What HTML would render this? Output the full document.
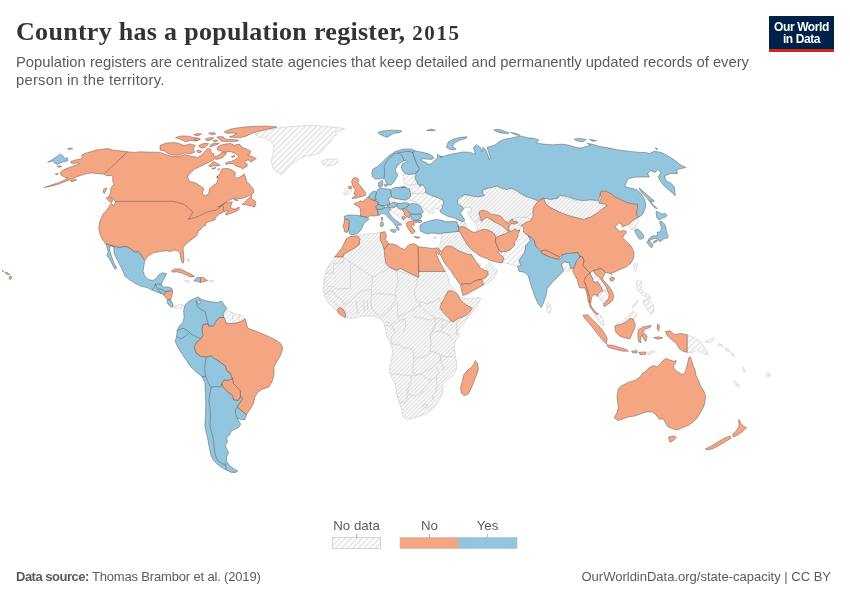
<!DOCTYPE html>
<html><head><meta charset="utf-8">
<style>
html,body{margin:0;padding:0;background:#fff;}
body{width:850px;height:600px;position:relative;overflow:hidden;font-family:"Liberation Sans",sans-serif;}
#title{position:absolute;left:16px;top:16px;font-family:"Liberation Serif",serif;font-weight:bold;font-size:26px;line-height:32px;color:#333;white-space:nowrap;letter-spacing:0.3px;}
#sub{position:absolute;left:16px;top:52.5px;font-size:14.78px;line-height:18.5px;color:#5b5b5b;white-space:nowrap;}
#logo{position:absolute;left:769px;top:16px;width:65px;height:33px;background:#002147;border-bottom:3px solid #ce261e;color:#fff;font-weight:bold;font-size:12px;line-height:11.6px;text-align:center;letter-spacing:-0.4px;}
#logo span{display:block;}
#src{position:absolute;left:16px;top:569px;font-size:13px;line-height:16px;color:#5b5b5b;white-space:nowrap;}
#url{position:absolute;right:19px;top:569px;font-size:13px;line-height:16px;color:#5b5b5b;white-space:nowrap;}
svg{position:absolute;left:0;top:0;}
</style></head><body>
<div id="title">Country has a population register, <span style="font-size:21px;letter-spacing:1.6px">2015</span></div>
<div id="sub">Population registers are centralized state agencies that keep detailed and permanently updated records of every<br><span style="letter-spacing:0.25px">person in the territory.</span></div>
<div id="logo"><span style="margin-top:6px">Our World</span><span>in Data</span></div>
<svg id="map" width="850" height="600" viewBox="0 0 850 600">
<defs>
<pattern id="h" width="4" height="4" patternUnits="userSpaceOnUse"><rect width="4" height="4" fill="#fff"/><path d="M-1,1 l2,-2 M0,4 l4,-4 M3,5 l2,-2" stroke="#e0e0e0" stroke-width="1.3" fill="none"/></pattern>
<pattern id="h2" width="4" height="4" patternUnits="userSpaceOnUse" patternTransform="rotate(45)"><rect width="4" height="4" fill="#fff"/><line x1="1" y1="0" x2="1" y2="4" stroke="#e6e6e6" stroke-width="1.7"/></pattern>
</defs>
<g fill="url(#h)" stroke="#c8c8c8" stroke-width="0.6" stroke-linejoin="round">
<path d="M334.7,256.9 342.9,256.9 344.1,253.8 348.8,251.5 354.7,247.9 359.4,244.4 359.9,238.5 357.1,235.7 364.1,234.3 372.4,233.8 380.6,232.6 380.1,239.7 382.5,244.4 384.1,249.1 384.8,256.2 385.8,263.2 390.0,267.2 395.9,270.3 400.6,268.6 406.5,271.5 413.5,275.0 418.7,277.4 418.7,271.5 445.3,271.5 447.6,275.9 448.8,280.6 449.4,284.1 451.8,286.5 455.3,290.6 458.8,295.3 460.6,298.2 462.4,297.1 467.1,298.8 472.9,298.2 478.8,297.6 480.6,298.2 478.8,302.9 475.9,307.6 472.4,312.4 468.2,317.1 465.9,320.0 464.1,323.2 459.4,327.9 457.1,332.6 460.0,334.1 455.3,341.2 454.1,348.2 455.3,355.3 456.5,362.4 456.5,369.4 452.9,375.3 447.1,380.0 442.4,384.7 443.1,390.6 441.2,396.5 437.6,402.4 432.9,408.2 427.1,412.9 420.0,416.0 412.9,418.4 407.1,419.3 403.1,416.5 401.6,409.4 398.8,401.2 396.5,392.9 395.3,384.7 391.8,377.6 389.4,370.6 390.6,363.5 392.2,356.5 392.4,349.1 390.0,342.1 386.5,335.0 385.3,327.9 384.1,323.2 380.6,318.5 374.7,316.2 367.6,315.7 359.4,316.6 351.2,318.5 345.3,317.4 345.8,313.8 342.9,309.1 339.4,307.2 337.1,310.3 333.5,307.9 328.8,303.2 325.3,297.4 322.9,291.5 323.6,285.6 324.6,278.5 326.0,271.5 328.8,265.6 332.4,260.9Z"/>
<path d="M437.6,247.6 440.0,244.7 441.2,240.0 441.8,235.3 443.5,232.9 449.4,232.4 454.1,231.8 458.2,231.5 459.4,231.2 461.2,234.1 462.9,237.6 465.3,241.2 467.1,244.7 469.4,247.1 468.8,249.4 470.6,252.4 469.4,254.7 465.9,253.5 461.2,251.8 456.5,249.4 451.8,246.5 448.2,245.9 445.3,247.1 442.4,250.6 440.6,254.7 439.4,251.8Z"/>
<path d="M433.5,237.4 436.5,236.7 436.7,237.9 434.1,238.5Z"/>
<path d="M457.1,218.8 460.6,220.6 464.1,221.4 466.5,225.3 465.3,227.6 462.4,226.5 460.0,227.1 457.9,225.3 456.5,221.8 455.3,221.2Z"/>
<path d="M481.8,279.4 485.9,277.1 488.2,274.1 487.6,271.2 483.5,270.0 481.2,268.8 484.7,267.6 487.6,265.3 489.4,262.4 490.6,264.1 493.5,267.6 497.6,270.6 496.5,273.5 494.1,277.6 490.6,281.2 487.1,283.5 483.5,284.7Z"/>
<path d="M478.8,263.9 480.0,263.2 480.5,265.3 479.3,265.9Z"/>
<path d="M472.4,221.2 474.7,217.6 477.6,216.5 481.2,221.2 482.9,220.0 484.7,218.2 487.6,217.6 490.6,219.4 494.1,221.8 497.6,223.5 501.2,225.3 504.7,228.2 507.6,231.2 508.8,231.8 504.7,234.1 501.2,235.3 497.6,236.5 495.9,237.6 494.7,234.1 491.8,231.8 488.2,230.0 484.7,229.4 481.2,230.0 478.2,231.2 477.1,228.8 474.7,224.7Z"/>
<path d="M509.4,225.3 511.2,223.5 514.1,224.1 517.6,222.9 520.0,225.3 521.2,228.2 520.0,230.0 517.1,230.6 514.7,228.8 512.9,230.8 509.4,230.8 508.8,228.8Z"/>
<path d="M510.6,219.4 516.5,216.4 523.5,217.1 530.6,218.2 529.4,221.8 523.5,227.2 518.4,224.1 516.5,220.6 512.9,221.8Z"/>
<path d="M457.6,200.6 463.5,195.9 472.9,194.7 482.4,193.5 483.5,190.0 489.4,187.6 496.5,185.8 504.7,188.1 511.8,188.8 517.6,192.4 524.7,195.9 531.8,198.2 537.6,200.6 534.1,206.5 532.9,211.2 529.4,215.9 522.4,217.1 515.3,218.2 510.6,220.6 505.9,222.9 500.0,219.4 494.1,215.9 487.1,213.5 482.4,211.2 478.8,213.5 478.8,220.6 472.9,222.5 470.6,218.2 469.4,213.5 471.8,210.0 470.6,207.6 467.1,207.6 463.5,208.8 461.2,205.3Z"/>
<path d="M543.5,198.2 550.6,199.4 557.6,198.2 560.0,195.9 568.2,198.2 576.5,200.6 585.9,199.9 595.3,198.9 598.8,202.9 604.7,204.1 607.1,206.0 602.4,208.8 596.5,213.5 590.6,217.1 583.5,219.4 574.1,217.1 565.9,214.7 557.6,211.2 550.6,207.6 545.9,204.1Z"/>
</g>
<g fill="url(#h2)" stroke="#c8c8c8" stroke-width="0.6" stroke-linejoin="round">
<path d="M172.2,304.8 176.5,305.8 180.0,304.1 184.0,305.3 184.7,308.1 181.2,307.6 177.6,308.8 174.1,307.6Z"/>
<path d="M184.7,280.6 188.7,280.6 189.4,282.2 185.4,282.2Z"/>
<path d="M209.4,280.4 212.9,280.4 212.9,281.8 209.4,281.8Z"/>
<path d="M186.4,259.4 188.7,258.7 189.4,261.8 187.8,261.1Z"/>
<path d="M226.5,308.2 230.0,311.8 235.9,314.1 241.8,315.3 245.3,318.8 240.6,321.9 233.5,323.5 226.5,323.5 224.1,317.6 222.9,314.1Z"/>
<path d="M255.3,134.7 261.2,131.2 274.1,128.8 285.9,126.9 300.0,126.0 314.1,125.3 330.6,126.9 344.7,128.4 340.0,130.7 335.3,131.6 336.5,134.7 331.8,137.8 330.6,141.8 325.9,145.3 323.5,148.8 321.2,152.4 314.1,154.7 307.1,155.9 300.0,158.2 292.9,162.9 288.2,167.6 283.5,172.4 281.2,174.7 277.6,172.4 274.1,170.0 272.2,165.3 271.3,159.4 272.9,154.7 274.1,148.8 272.9,144.1 269.4,140.6 264.7,137.8 258.8,137.1Z"/>
<path d="M321.2,161.3 325.9,159.4 332.9,158.9 337.6,159.9 338.1,162.2 334.1,164.6 328.2,166.0 323.5,164.6Z"/>
<path d="M501.2,262.5 503.5,258.2 501.2,252.4 499.5,251.6 504.7,251.6 510.6,248.8 515.3,244.6 514.1,240.6 516.9,237.1 521.2,234.2 523.5,231.9 528.2,235.9 530.6,240.6 525.9,245.3 524.7,252.4 518.8,260.6 521.2,265.3 517.6,266.5 514.1,265.3 508.2,263.4Z"/>
<path d="M562.4,255.9 568.2,255.4 568.7,258.7 563.1,258.7Z"/>
<path d="M561.2,260.6 564.7,261.8 569.4,262.9 570.6,268.8 567.8,271.2 564.0,270.0 562.4,265.3Z"/>
<path d="M547.1,303.4 549.9,304.1 551.3,308.8 549.4,313.5 547.1,311.2Z"/>
<path d="M590.0,272.9 592.9,271.2 594.7,272.9 596.5,275.3 599.4,277.1 601.2,280.0 604.1,283.5 606.5,287.6 607.6,291.2 605.3,291.8 602.9,290.6 601.2,287.6 599.4,284.1 597.6,281.8 595.3,282.4 592.9,281.2 592.4,277.6 590.6,275.3Z"/>
<path d="M598.2,294.1 600.6,291.8 602.9,290.6 605.3,291.8 607.6,291.2 608.8,294.7 608.2,298.2 605.9,300.6 602.9,301.2 600.0,299.4 598.2,297.1Z"/>
<path d="M403.2,174.7 407.6,173.8 416.5,172.1 418.2,173.8 417.3,178.2 419.1,181.8 414.7,184.4 410.3,185.3 405.9,184.4 403.8,180.9Z"/>
<path d="M410.3,185.3 414.7,184.4 419.1,181.8 422.6,185.6 427.1,191.5 423.5,193.2 418.2,193.8 412.9,193.2 409.4,190.6Z"/>
<path d="M409.4,193.2 412.9,193.2 418.2,193.8 423.5,193.2 427.1,190.6 432.3,194.1 439.4,196.8 444.7,200.3 443.8,206.5 441.2,210.3 435.9,208.2 432.3,210.0 434.1,212.6 430.6,213.5 427.1,210.9 423.5,208.2 420.9,205.6 418.2,202.9 414.7,201.5 410.3,200.3 408.5,196.8Z"/>
<path d="M343.5,192.9 345.3,189.4 348.5,187.1 349.4,188.8 351.8,188.6 351.8,191.2 350.0,193.3 346.5,194.7 344.1,194.5Z"/>
<path d="M388.0,198.8 390.0,197.6 394.1,198.2 397.6,198.8 401.2,199.4 404.7,200.0 408.2,199.4 409.4,200.8 407.6,202.9 403.5,202.9 400.0,203.5 397.6,203.5 396.5,202.7 392.9,202.4 390.0,201.8Z"/>
<path d="M390.0,210.0 394.1,207.4 397.1,205.9 398.2,208.2 401.2,209.4 402.4,208.8 402.9,210.6 404.1,212.4 404.5,214.7 402.1,217.1 402.4,218.8 404.1,219.4 405.6,217.6 407.1,217.1 409.4,217.6 411.2,218.8 413.5,220.4 411.8,221.2 408.8,221.8 406.5,223.5 404.7,222.9 403.5,220.6 401.2,218.2 398.2,216.5 395.3,214.1 392.4,211.8Z"/>
<path d="M628.5,224.5 631.2,221.8 634.4,219.7 637.5,217.1 638.4,221.3 636.5,224.5 634.9,227.6 632.8,229.8 630.6,229.2Z"/>
<path d="M633.5,265.3 635.3,262.9 636.8,264.7 636.5,268.8 635.3,271.4 634.1,269.4Z"/>
<path d="M636.5,281.2 639.4,280.4 641.8,281.8 641.2,285.3 640.6,288.8 642.9,291.8 646.5,293.5 650.0,296.5 651.2,298.8 648.8,299.4 645.9,297.1 642.9,295.3 640.0,292.9 637.6,289.4 636.8,285.3Z"/>
<path d="M642.9,300.6 646.5,299.4 650.0,301.8 652.9,304.1 654.1,308.8 653.5,312.9 651.2,314.1 648.8,311.8 647.1,308.2 644.7,305.3 643.5,302.9Z"/>
<path d="M632.4,307.1 635.3,302.9 637.6,300.0 638.2,300.6 635.9,304.1 632.9,307.6Z"/>
<path d="M593.5,312.4 599.4,313.5 602.9,319.4 604.1,325.3 600.6,324.1 597.1,318.2Z"/>
<path d="M646.5,352.8 654.7,350.5 655.2,351.9 648.8,354.7Z"/>
<path d="M615.9,324.6 622.9,320.6 628.8,314.7 633.5,311.2 637.1,314.7 633.5,319.4 630.0,318.2 626.5,321.8 620.6,324.6Z"/>
<path d="M687.2,334.7 694.7,337.8 701.8,342.9 704.1,347.6 708.8,354.7 702.9,353.5 697.1,350.0 692.4,352.4 687.2,352.4Z"/>
<path d="M705.3,341.8 711.2,339.4 713.5,337.1 714.0,339.4 710.0,342.9Z"/>
<path d="M718.7,343.4 722.9,345.3 722.5,346.7 718.2,344.8Z"/>
<path d="M725.3,347.6 730.0,350.5 729.1,351.9 724.8,349.1Z"/>
<path d="M731.2,352.4 734.7,355.2 733.8,356.4 730.7,353.8Z"/>
<path d="M734.7,381.1 739.9,385.8 738.5,387.6 734.2,382.9Z"/>
<path d="M743.6,366.9 745.1,371.6 744.1,372.1 742.9,367.9Z"/>
<path d="M766.5,373.5 769.5,373.1 770.0,375.9 767.2,376.4Z"/>
</g>
<g fill="none" stroke="#c8c8c8" stroke-width="0.6" stroke-linejoin="round">
<path d="M232.4,312.9 233.5,323.5"/>
<path d="M238.7,314.8 239.4,322.4"/>
<path d="M334.4,256.8 343.2,256.8 343.2,262.6 333.5,263.5 333.5,273.2 324.7,273.2"/>
<path d="M343.2,256.8 348.5,260.9 350.3,263.5 350.3,288.2 336.2,289.1 333.5,286.5 327.4,286.5"/>
<path d="M348.5,260.9 359.1,267.9 372.3,276.8 378.5,274.1 389.1,267.9 385.6,264.4"/>
<path d="M372.3,276.8 372.3,282.9 371.5,289.1 362.6,290.9 358.2,293.5 352.9,297.9 351.2,300.6 345.9,304.1 343.2,307.6"/>
<path d="M389.1,267.9 397.1,270.6 397.9,282.9 395.3,291.8 396.2,296.2 392.6,294.4 385.6,294.4 376.8,293.5 371.5,295.3 371.5,289.1"/>
<path d="M397.1,270.6 417.3,276.8 417.3,282.9 414.7,290.0 414.7,296.2 417.3,301.5 420.9,305.9"/>
<path d="M417.3,276.8 417.3,271.8"/>
<path d="M371.5,295.3 370.6,300.6 371.5,307.6 375.0,312.9 380.3,316.5 386.5,312.9 390.9,307.6 395.3,300.6 396.2,296.2"/>
<path d="M395.3,300.6 397.9,305.9 397.1,311.2 397.9,316.5 403.2,314.7 410.3,311.2 417.3,305.9 420.9,305.9 427.9,312.9 435.0,318.2"/>
<path d="M420.9,305.9 420.0,301.5 427.9,304.1 436.8,299.7 438.5,297.1 441.2,304.1"/>
<path d="M356.5,300.6 357.4,313.8"/>
<path d="M363.5,299.7 364.4,312.1"/>
<path d="M367.1,300.6 367.9,310.3"/>
<path d="M324.7,290.9 332.6,290.9 336.2,296.2 341.5,298.8 344.1,304.1"/>
<path d="M324.7,293.5 330.9,293.9"/>
<path d="M332.6,300.6 337.9,305.9"/>
<path d="M385.6,321.8 392.6,323.5 397.9,321.8 405.0,318.2 405.9,325.3 403.2,332.3"/>
<path d="M397.9,316.5 398.8,321.8"/>
<path d="M413.8,316.5 420.9,318.2 431.5,320.0 435.0,318.2 435.0,325.3 431.5,332.3"/>
<path d="M442.1,319.1 442.1,328.8"/>
<path d="M457.1,320.0 456.2,335.0"/>
<path d="M435.0,318.2 442.1,319.1 449.1,321.8 457.1,320.0 461.5,312.9"/>
<path d="M384.0,326.0 392.0,325.0 395.0,332.0 391.0,338.0 392.0,344.0 400.0,345.0 403.0,348.0 410.0,348.0 413.0,352.0 414.0,358.0 419.0,358.0"/>
<path d="M389.0,373.6 400.0,374.4 411.0,376.0 418.0,375.0"/>
<path d="M414.0,358.0 413.0,366.0 413.0,373.0 418.0,375.0"/>
<path d="M419.0,358.0 424.0,357.0 429.0,354.0 430.0,351.0 434.0,352.0 440.0,355.0 441.0,360.0 436.0,365.0 432.0,368.0 426.0,371.0 421.0,374.0 418.0,375.0"/>
<path d="M430.0,351.0 431.0,342.0 430.0,335.0 434.0,332.0 440.0,331.0 449.0,335.0 453.0,340.0"/>
<path d="M440.0,355.0 446.0,357.0 454.0,356.0"/>
<path d="M440.0,355.0 441.6,363.0 444.0,369.0 441.0,370.0"/>
<path d="M421.0,374.0 425.0,378.0 431.0,380.0 436.0,378.0 439.0,372.0 436.0,367.0"/>
<path d="M411.0,376.0 411.0,382.0 408.0,388.0 409.0,395.0 416.0,396.0 422.0,392.0 425.0,388.0 431.0,380.0"/>
<path d="M407.0,388.0 407.0,400.0 403.0,403.0 400.0,402.0"/>
<path d="M436.0,378.0 437.0,386.0 435.0,394.0"/>
<path d="M432.0,397.0 434.0,396.4 434.8,398.4 432.8,399.2 432.0,397.0"/>
<path d="M423.0,405.6 426.0,404.0 428.0,406.4 425.0,408.4 423.0,405.6"/>
<path d="M430.0,335.0 436.0,324.0 440.0,320.0"/>
<path d="M440.0,331.0 450.0,320.0"/>
</g>
<g fill="#fff" stroke="#c8c8c8" stroke-width="0.6" stroke-linejoin="round">
<path d="M460.6,213.5 462.4,210.6 463.8,208.2 466.5,207.6 469.4,207.6 471.8,208.8 470.6,210.6 468.2,211.8 467.1,214.1 469.4,216.5 471.8,219.4 474.1,221.8 476.5,225.3 477.6,228.8 476.5,231.8 472.9,232.4 469.4,230.6 467.1,227.6 465.9,224.1 464.7,220.6 462.9,217.1Z"/>
</g>
<g fill="#f4a582" stroke="#4a3f3a" stroke-opacity="0.8" stroke-width="0.5" stroke-linejoin="round">
<path d="M44.1,187.6 50.6,185.3 57.6,182.9 63.5,180.6 67.6,178.2 65.3,177.4 61.2,175.3 60.2,172.9 61.8,170.8 65.9,168.8 70.6,167.1 75.3,165.3 79.4,164.1 78.8,162.9 74.1,163.5 70.8,162.9 70.8,161.4 75.3,160.0 81.2,158.8 82.6,157.6 81.4,155.3 84.7,153.5 90.6,151.8 96.5,150.0 102.4,149.2 107.6,148.5 112.9,150.0 120.0,150.8 127.6,151.8 134.1,152.4 140.0,151.8 160.0,152.4 167.8,155.2 172.7,156.6 178.4,156.6 184.7,154.5 190.4,155.9 198.1,157.4 202.4,154.5 202.4,153.9 204.1,152.3 205.7,150.2 208.2,148.2 210.2,149.0 211.1,151.5 212.3,153.5 214.4,153.9 213.5,155.6 214.4,156.8 216.8,156.0 219.3,154.4 221.4,152.7 223.8,152.3 226.7,152.7 225.5,154.8 223.0,157.2 219.7,158.9 216.4,159.3 214.4,158.9 212.7,160.5 209.8,161.8 206.5,163.4 202.4,165.5 198.3,167.5 195.0,168.8 190.4,172.9 187.5,176.4 189.6,181.4 195.3,182.8 200.9,186.3 203.8,188.4 202.4,193.4 205.2,195.8 208.7,193.4 209.7,188.4 212.9,185.6 216.5,183.5 217.9,179.2 217.2,175.7 216.8,177.8 219.7,173.7 222.2,168.8 225.5,168.4 229.6,168.8 233.7,171.2 235.8,172.9 234.5,176.2 237.0,178.2 241.1,176.2 244.4,174.1 245.7,177.8 246.5,181.1 250.4,185.6 253.9,189.8 253.5,193.1 251.2,194.9 248.4,195.9 245.5,197.3 242.7,198.2 238.9,198.7 235.2,198.2 231.4,199.2 228.6,200.6 225.8,202.5 222.9,204.4 220.1,206.2 218.2,207.2 222.0,204.8 225.8,202.9 229.5,201.8 232.4,202.0 231.4,204.4 230.5,207.2 232.4,208.6 235.2,209.1 238.0,207.6 239.4,207.2 238.9,209.5 236.1,211.4 232.4,212.8 228.6,214.2 226.2,215.2 225.3,213.8 227.2,212.4 228.6,210.9 226.7,210.9 224.4,211.4 222.0,212.8 219.2,214.2 217.3,215.6 215.4,218.0 214.9,219.9 212.6,220.8 208.8,221.8 205.5,224.1 205.1,226.0 204.7,225.3 202.4,227.6 198.8,231.2 196.5,235.9 191.8,239.4 187.1,242.9 183.1,247.6 183.5,253.5 184.0,259.4 183.1,263.4 181.6,261.8 180.7,258.2 180.0,253.5 177.6,250.7 174.1,250.0 170.6,251.6 165.9,250.7 160.0,251.6 152.9,253.1 148.2,255.9 144.7,260.6 142.4,257.1 138.8,251.6 135.3,252.4 130.6,248.8 125.9,246.5 118.8,247.6 112.9,246.0 105.9,244.1 102.4,239.4 100.0,234.7 98.8,227.6 100.0,220.6 103.5,213.5 106.0,211.0 108.5,207.5 110.0,205.0 111.5,203.3 112.5,204.2 113.0,206.0 114.0,205.6 115.0,203.0 115.2,201.4 114.1,200.0 112.2,198.5 110.6,197.5 109.4,196.4 109.5,195.0 110.6,192.9 110.6,189.4 111.8,186.5 114.1,184.1 112.4,180.6 112.9,177.6 111.8,175.3 108.2,175.9 105.9,175.3 104.1,174.1 101.2,174.1 96.5,173.5 91.8,172.9 87.1,173.5 81.2,175.3 75.3,177.4 70.6,179.4 65.3,181.4 58.8,184.1 51.8,186.1Z"/>
<path d="M160.0,145.4 165.6,143.2 172.7,142.5 178.4,143.2 184.0,145.4 190.4,143.9 195.3,145.4 193.2,148.9 194.6,152.4 190.4,153.8 184.7,153.1 178.4,155.2 172.7,155.2 168.5,153.8 164.2,151.0 160.0,150.0Z"/>
<path d="M175.5,137.6 181.2,135.9 188.2,136.2 193.9,137.6 199.5,139.0 196.7,141.1 191.1,140.4 185.4,141.8 181.2,139.7Z"/>
<path d="M208.7,133.1 213.6,132.6 215.8,134.1 211.5,134.8Z"/>
<path d="M224.2,131.9 229.2,129.4 236.2,128.0 244.7,127.0 256.0,126.3 267.3,126.0 277.2,127.0 271.5,128.4 264.5,129.8 257.4,131.7 251.8,133.4 246.1,136.2 240.5,137.6 234.8,137.6 229.2,136.9 233.4,135.5 236.9,133.4 232.0,133.1 227.1,133.4Z"/>
<path d="M193.9,134.8 198.1,133.4 201.6,134.1 197.4,135.9Z"/>
<path d="M216.8,149.0 218.1,146.5 221.4,144.9 225.5,144.1 229.6,143.6 232.9,144.1 234.1,146.1 236.2,144.5 239.5,144.1 241.1,146.5 244.4,148.2 247.7,149.4 250.6,151.1 250.2,153.5 247.7,154.8 252.7,156.8 256.4,158.5 253.5,160.5 251.0,162.2 248.5,160.1 245.7,160.5 244.8,162.2 247.3,164.2 246.9,166.7 244.0,167.5 242.8,169.2 240.7,167.5 237.8,166.7 235.0,165.5 232.9,163.4 229.6,163.8 226.3,164.2 225.1,163.4 227.1,162.2 231.2,161.4 234.5,159.7 237.0,158.5 238.7,156.8 237.4,155.2 235.4,153.5 233.3,152.7 231.2,151.9 227.9,151.5 224.7,151.9 221.4,151.1 218.5,150.7Z"/>
<path d="M231.2,156.8 233.7,155.2 235.0,156.0 232.9,157.7Z"/>
<path d="M208.6,165.9 211.5,163.4 213.5,161.4 216.4,163.0 220.1,165.1 217.7,165.9 214.4,165.5 211.1,166.7Z"/>
<path d="M211.9,168.6 215.6,167.3 216.0,167.9 212.7,169.2Z"/>
<path d="M217.7,169.6 219.5,168.4 219.9,168.9 218.5,170.3Z"/>
<path d="M198.7,145.7 201.6,144.1 205.7,143.2 208.6,143.6 207.4,145.3 204.9,147.4 202.0,148.2 199.9,147.4Z"/>
<path d="M209.4,146.5 211.5,144.1 215.2,143.2 219.3,143.2 217.2,144.5 213.5,145.7 211.1,146.9Z"/>
<path d="M205.3,139.1 208.6,137.9 213.5,137.5 212.7,139.1 209.8,140.4 206.5,140.4Z"/>
<path d="M195.0,138.3 198.3,137.9 200.4,139.1 197.5,140.4 195.0,140.4Z"/>
<path d="M212.7,140.8 215.6,139.9 217.7,140.8 215.2,142.0Z"/>
<path d="M216.8,137.1 219.7,136.6 223.8,137.1 224.7,138.7 227.9,139.5 232.9,139.5 237.8,139.9 238.7,140.8 234.5,141.6 229.6,141.6 224.7,141.6 221.4,141.2 219.7,139.5 217.7,138.3Z"/>
<path d="M196.6,150.7 199.9,150.2 202.0,151.5 199.9,152.7 197.5,152.3Z"/>
<path d="M242.2,204.4 244.6,202.5 247.4,199.2 250.2,196.8 252.1,195.4 251.2,197.8 252.6,199.6 254.9,200.6 255.9,203.4 254.9,206.7 253.1,207.2 252.1,205.3 250.2,206.2 248.4,205.3 245.5,204.8Z"/>
<path d="M233.8,199.4 236.1,199.2 238.5,200.3 236.1,200.6Z"/>
<path d="M106.2,198.4 107.4,196.8 109.2,197.1 110.9,198.2 112.2,199.6 112.4,201.2 111.6,202.6 110.2,202.2 108.8,201.0 107.6,199.8Z"/>
<path d="M103.5,189.4 105.3,188.0 107.1,188.5 105.9,190.6 104.5,193.5 103.3,192.4Z"/>
<path d="M70.4,180.6 75.3,179.1 76.7,180.0 71.8,182.1Z"/>
<path d="M55.3,173.9 57.6,173.2 58.2,174.1 55.9,174.8Z"/>
<path d="M57.1,166.1 60.6,165.9 61.8,166.8 58.8,167.3Z"/>
<path d="M9.2,276.5 11.0,276.2 12.0,278.0 10.5,279.6 9.3,279.0Z"/>
<path d="M5.0,272.2 7.0,272.5 9.8,274.5 8.0,274.7 5.5,273.3Z"/>
<path d="M2.0,271.0 3.5,270.8 3.0,271.8Z"/>
<path d="M163.5,294.7 165.9,291.6 170.6,290.7 172.9,290.0 172.2,294.7 170.6,300.1 167.5,299.4 165.2,297.1Z"/>
<path d="M171.3,271.1 174.8,268.9 180.5,268.9 186.1,271.8 191.8,274.6 194.6,276.4 190.4,277.0 186.8,275.3 181.9,273.2 176.9,271.8 173.4,272.2Z"/>
<path d="M200.2,277.4 203.8,277.8 207.6,280.7 204.5,281.6 200.5,282.4Z"/>
<path d="M224.1,317.6 226.5,323.5 233.5,323.5 240.6,321.9 245.3,318.8 246.5,323.5 247.6,328.2 254.7,330.6 261.8,333.6 268.8,336.5 275.9,340.0 280.6,343.5 282.9,348.2 280.6,355.3 277.1,361.2 274.0,367.1 274.0,374.1 272.4,381.2 268.8,387.1 261.8,389.4 257.1,392.9 254.7,397.6 253.5,403.5 250.0,409.4 246.5,414.6 242.9,411.8 239.4,408.9 237.1,407.1 239.4,403.5 242.5,398.8 240.6,396.5 240.1,390.6 237.1,387.1 233.5,383.5 232.4,378.8 230.0,372.9 226.5,370.6 225.3,365.9 220.6,362.4 214.7,358.8 211.2,355.8 206.5,357.2 200.6,356.5 195.9,352.9 194.0,347.1 197.1,341.6 200.6,338.8 202.9,335.3 201.8,329.4 202.9,324.7 207.6,323.5 208.8,325.9 213.5,325.9 215.9,321.2 219.4,317.6Z"/>
<path d="M224.1,380.0 228.8,380.0 232.4,378.8 233.5,383.5 237.1,387.1 240.1,390.6 240.6,396.5 238.2,400.5 233.5,400.0 232.4,395.3 227.6,391.8 222.9,387.1 221.8,383.5Z"/>
<path d="M350.0,236.6 357.1,235.7 359.9,238.5 359.4,244.4 354.7,247.9 348.8,251.5 344.1,253.8 342.9,256.9 334.7,256.9 338.2,252.6 341.8,247.9 344.1,243.2 346.5,238.5Z"/>
<path d="M380.6,232.6 384.8,231.5 386.5,236.2 385.3,239.7 388.8,243.2 386.5,246.8 384.1,249.1 382.5,244.4 380.1,239.7Z"/>
<path d="M384.1,249.1 386.5,246.8 387.9,244.4 392.1,243.7 396.4,245.1 400.6,247.9 404.8,249.4 406.9,246.5 409.8,244.4 413.3,243.7 416.8,245.1 418.2,246.8 418.7,262.1 418.7,277.4 413.5,275.0 406.5,271.5 400.6,268.6 395.9,270.3 390.0,267.2 385.8,263.2 384.8,256.2Z"/>
<path d="M418.2,246.8 425.3,247.5 432.4,248.4 438.2,247.9 440.6,250.8 438.9,255.0 437.1,252.2 435.9,252.6 438.2,258.5 441.8,265.6 445.3,271.5 418.7,271.5Z"/>
<path d="M337.1,310.3 339.4,307.2 342.9,309.1 345.8,313.8 345.3,317.4 341.8,315.7 338.7,313.4Z"/>
<path d="M447.6,291.2 451.2,290.6 455.3,292.4 458.2,295.3 459.4,298.2 461.2,300.6 464.1,303.5 468.2,305.9 472.4,308.2 470.0,311.8 466.5,315.3 461.2,317.6 456.5,319.2 453.5,322.0 450.6,320.6 448.8,318.2 445.3,314.7 442.4,311.2 439.8,308.2 441.2,304.1 443.5,299.4 445.9,295.3Z"/>
<path d="M475.3,360.5 477.6,363.5 478.4,369.4 476.5,375.3 474.1,381.2 471.3,388.2 468.2,394.1 464.2,395.8 461.2,392.9 460.5,387.1 462.4,381.2 463.5,375.3 467.1,370.6 471.8,367.1 474.1,363.5Z"/>
<path d="M440.6,254.7 442.4,250.6 445.3,247.1 448.2,245.9 451.8,246.5 456.5,249.4 461.2,251.8 465.9,253.5 469.4,254.7 471.2,254.1 473.5,257.6 475.9,261.2 478.2,264.7 480.6,268.2 483.5,270.0 487.6,271.2 488.2,274.1 485.9,277.1 481.8,279.4 477.6,280.0 472.9,281.8 470.6,284.1 465.9,283.5 461.2,284.1 461.2,285.3 459.4,283.5 456.5,279.4 453.5,275.3 451.2,271.2 448.2,267.6 445.3,264.1 442.9,260.0 440.6,255.3Z"/>
<path d="M461.2,284.1 465.9,283.5 470.6,284.1 472.9,281.8 477.6,280.0 481.8,279.4 483.5,284.7 478.8,287.6 473.5,290.6 468.2,293.5 462.9,295.6 461.8,291.2 460.6,286.5Z"/>
<path d="M457.9,225.3 460.0,227.1 462.4,226.5 465.3,227.6 468.2,229.4 471.8,231.8 475.3,232.4 478.2,231.2 481.2,230.0 484.7,229.4 488.2,230.0 491.8,231.8 494.7,234.1 495.9,237.6 495.3,241.2 497.1,245.9 498.8,249.4 498.2,252.4 501.2,255.3 504.1,258.2 502.4,262.4 500.0,262.9 495.3,261.8 490.6,260.6 487.1,258.8 483.5,257.6 478.8,255.3 475.3,252.4 471.8,250.0 469.4,247.1 467.1,244.7 465.3,241.2 462.9,237.6 461.2,234.1 459.4,231.2 458.2,231.5 458.8,228.8Z"/>
<path d="M495.9,237.6 497.6,236.5 501.2,235.3 504.7,234.1 508.8,231.8 512.9,230.8 514.7,228.8 517.1,230.6 520.0,230.0 518.2,234.1 517.6,237.6 515.9,240.6 514.1,242.4 514.7,245.3 512.9,247.1 510.6,249.4 507.1,251.2 503.5,251.8 500.0,251.8 498.8,249.4 497.1,245.9 495.3,241.2Z"/>
<path d="M478.8,211.8 481.2,210.6 484.7,210.4 487.6,211.8 490.6,213.9 494.1,214.7 497.6,215.1 501.2,216.5 503.5,219.4 505.9,221.8 508.8,222.9 510.0,220.6 512.4,218.8 512.9,221.2 517.1,221.8 517.6,222.9 514.1,224.1 511.2,223.5 509.4,225.3 508.8,228.8 509.4,230.8 507.6,231.2 504.7,228.2 501.2,225.3 497.6,223.5 494.1,221.8 490.6,219.4 487.6,217.6 484.7,218.2 482.9,220.0 481.2,221.2 480.2,217.6 479.4,214.7Z"/>
<path d="M541.2,250.7 545.9,250.0 552.9,253.5 560.0,257.1 558.8,259.4 551.8,257.8 545.9,255.4 541.9,253.5Z"/>
<path d="M572.9,267.6 574.7,262.9 578.2,259.4 580.6,255.9 582.9,257.1 584.1,261.2 582.9,264.7 584.7,267.6 587.6,270.6 590.0,272.9 587.6,275.3 585.3,277.6 584.1,281.2 585.9,285.3 587.6,290.0 588.8,294.7 589.8,299.4 589.4,303.5 588.2,301.8 587.6,297.1 586.5,292.4 584.7,287.6 581.8,288.2 579.4,287.6 578.2,284.1 577.1,279.4 574.7,275.3 572.9,271.8Z"/>
<path d="M592.9,270.6 597.1,269.4 600.6,268.2 603.5,270.0 605.3,272.4 604.1,275.3 602.4,278.2 604.1,281.2 607.1,284.1 610.0,287.6 612.4,291.8 613.8,296.5 612.9,300.0 610.0,302.9 606.5,305.3 604.1,306.5 603.5,303.5 606.5,301.2 608.8,298.2 609.4,294.7 607.9,291.2 606.5,287.6 604.1,283.5 601.2,280.0 599.4,277.1 596.5,275.3 594.7,272.9Z"/>
<path d="M585.3,277.6 587.6,275.3 590.0,272.9 590.6,275.3 592.4,277.6 592.9,281.2 595.3,282.4 597.6,281.8 599.4,284.1 601.2,287.6 602.9,290.6 600.6,291.8 598.2,294.1 597.6,296.5 595.3,294.7 592.9,295.3 591.8,297.1 591.2,300.6 590.6,304.1 591.8,307.1 594.1,310.0 596.5,312.4 598.2,314.1 596.5,314.5 593.5,311.8 591.2,308.8 589.4,305.9 589.4,303.5 589.8,299.4 588.8,294.7 587.6,290.0 585.9,285.3 584.1,281.2Z"/>
<path d="M351.5,181.8 352.9,178.5 355.3,177.6 357.6,178.2 358.8,180.6 357.6,182.4 359.4,184.7 361.8,187.6 364.1,190.6 365.6,192.9 365.3,195.3 362.4,196.5 358.8,197.3 355.3,198.2 351.8,198.5 354.1,196.5 356.5,195.3 353.9,194.1 354.7,191.8 355.3,189.4 353.5,187.6 352.4,184.7Z"/>
<path d="M348.5,186.5 351.2,186.2 351.8,188.2 349.4,188.8Z"/>
<path d="M354.1,203.5 357.6,202.4 360.6,200.8 362.9,201.5 366.5,198.2 368.2,196.8 370.8,198.8 374.1,200.4 378.2,202.0 377.6,204.7 375.9,206.5 377.1,209.4 378.2,212.9 377.6,215.3 374.1,216.1 370.8,215.6 367.6,217.6 364.1,216.8 360.2,216.1 360.6,212.4 360.2,208.8 357.6,205.9 355.3,205.1Z"/>
<path d="M381.2,217.6 382.4,217.1 382.6,220.0 381.4,220.8Z"/>
<path d="M344.7,219.2 348.2,219.4 349.4,221.2 349.2,225.3 348.5,230.0 347.1,232.4 344.7,232.1 344.1,228.8 342.9,226.5 344.1,222.9Z"/>
<path d="M402.4,208.8 404.7,208.2 405.9,210.0 407.6,211.8 409.6,212.9 410.4,215.3 409.4,217.6 407.1,217.1 405.9,215.9 404.5,214.7 404.1,212.4 402.9,210.6Z"/>
<path d="M402.1,217.1 404.1,216.1 405.6,217.6 404.1,219.4 402.4,218.8Z"/>
<path d="M406.5,223.5 408.8,221.8 411.8,221.2 415.3,220.8 418.2,220.4 418.6,221.8 415.9,222.7 413.5,223.5 414.4,225.3 412.4,225.1 411.2,226.5 413.5,228.8 415.1,231.2 413.5,233.3 411.5,233.5 410.0,231.2 408.2,228.8 406.8,226.5Z"/>
<path d="M413.9,236.5 416.5,236.8 420.0,237.3 418.2,238.2 415.3,237.6Z"/>
<path d="M523.5,227.6 521.2,225.3 525.9,222.5 530.6,220.6 532.9,215.9 532.9,211.2 534.1,206.5 537.6,201.8 543.5,198.2 545.9,204.1 550.6,207.6 557.6,211.2 565.9,214.7 574.1,217.1 583.5,219.4 590.6,217.1 596.5,213.5 602.4,208.8 607.1,206.0 604.7,204.1 598.8,202.9 601.2,197.5 598.6,191.2 604.7,189.1 612.2,190.9 619.5,195.6 626.4,200.4 632.9,202.7 638.1,202.5 639.5,210.0 638.1,215.9 639.1,203.8 640.2,207.5 640.7,210.7 639.6,211.8 640.2,215.5 638.8,217.1 634.4,219.2 631.2,221.8 628.5,224.5 624.8,226.1 622.2,226.6 621.1,223.4 618.5,222.9 616.4,225.5 614.8,227.6 617.4,229.2 620.1,231.4 623.8,230.3 626.9,231.9 624.3,235.1 622.7,237.7 625.4,240.4 628.0,243.0 628.7,243.5 631.8,247.1 634.1,252.9 633.4,258.8 630.6,263.5 625.9,267.1 620.0,269.4 615.3,271.8 610.6,273.4 612.4,275.3 610.6,273.5 607.6,272.9 605.3,272.4 603.5,270.0 600.6,268.2 597.1,269.4 592.9,270.6 590.0,272.9 587.6,270.6 584.7,267.6 582.9,264.7 584.1,261.2 582.9,257.1 580.6,255.9 580.0,257.1 577.6,252.4 572.9,253.1 568.2,254.7 562.4,254.7 560.0,257.1 552.9,253.5 545.9,250.0 541.2,250.7 535.3,245.3 534.1,240.6 530.6,237.1 528.2,235.9 523.5,231.9 523.5,227.6Z"/>
<path d="M609.8,278.2 611.8,277.1 614.1,277.6 614.5,279.4 612.4,281.2 610.2,280.4Z"/>
<path d="M582.9,315.2 587.6,314.7 593.5,320.6 599.4,326.5 604.1,332.4 607.2,338.2 606.5,344.1 602.9,340.6 598.2,334.7 593.5,328.8 588.8,322.9 584.6,318.2Z"/>
<path d="M606.5,344.8 612.4,345.3 619.4,347.2 626.5,349.5 628.4,351.2 622.9,351.2 615.9,349.5 608.8,347.6Z"/>
<path d="M631.6,351.2 637.1,350.5 637.1,352.8 632.4,352.8Z"/>
<path d="M638.7,352.4 645.3,351.9 645.8,354.2 640.1,354.7Z"/>
<path d="M614.7,326.0 620.6,324.6 626.5,321.8 630.0,318.2 633.5,319.4 635.4,325.3 634.0,330.0 631.6,334.7 630.0,338.7 624.1,337.8 619.4,335.9 615.9,332.4Z"/>
<path d="M638.2,330.0 642.9,326.9 651.2,325.3 650.0,327.6 644.8,329.3 642.9,332.4 647.2,335.9 645.8,341.8 643.4,338.2 641.8,334.7 640.6,339.4 641.1,342.9 638.7,341.8 637.8,335.9Z"/>
<path d="M657.5,324.1 659.4,325.3 658.9,331.2 657.1,328.8Z"/>
<path d="M653.5,337.8 658.2,336.8 662.9,337.8 658.9,339.2Z"/>
<path d="M665.3,331.6 670.0,330.7 674.7,334.7 680.6,333.5 687.2,334.7 687.2,352.4 682.9,351.2 679.4,348.8 675.9,342.9 671.2,339.4 667.6,335.9Z"/>
<path d="M616.9,396.5 618.4,388.7 621.2,385.9 628.2,382.4 635.3,380.2 640.9,376.0 642.4,373.2 645.2,371.8 649.4,367.5 653.6,365.4 657.2,366.8 659.3,364.7 662.1,361.2 665.7,358.4 669.2,359.8 673.4,361.2 676.2,360.5 675.5,363.3 673.4,366.1 674.1,368.9 677.7,371.8 681.9,374.6 684.7,373.2 686.4,368.2 687.5,363.3 688.9,357.6 690.4,356.9 691.8,361.2 693.2,366.1 694.9,368.9 696.0,375.3 698.8,380.9 700.9,386.6 703.8,390.8 705.6,395.8 705.2,400.7 703.8,406.4 700.9,412.0 697.4,417.7 693.2,421.9 690.4,424.0 688.8,425.3 682.9,427.6 677.1,430.0 672.4,428.8 667.6,426.5 665.3,422.5 662.9,418.7 659.4,419.4 655.9,414.7 652.2,412.0 646.6,412.0 640.2,414.1 633.9,416.2 628.2,416.9 622.6,419.1 617.6,420.5 614.1,417.7 616.9,412.7 618.4,407.8 617.6,402.1Z"/>
<path d="M668.4,437.1 673.5,435.9 676.4,437.1 673.5,440.6 670.0,442.2Z"/>
<path d="M738.9,419.4 740.6,422.9 744.1,426.5 746.5,427.6 742.9,431.2 738.2,434.7 733.5,437.1 732.4,434.7 735.9,431.2 738.9,426.5Z"/>
<path d="M730.0,435.9 731.2,438.2 725.3,441.8 719.4,445.3 713.5,448.4 707.6,450.0 705.3,448.8 711.2,446.0 718.2,441.8 724.1,438.2Z"/>
</g>
<g fill="#92c5de" stroke="#4a3f3a" stroke-opacity="0.8" stroke-width="0.5" stroke-linejoin="round">
<path d="M47.6,162.4 51.8,160.0 55.9,157.1 60.6,153.9 62.9,155.9 64.7,158.2 68.0,158.2 67.6,160.9 63.5,161.8 60.0,162.9 57.6,164.5 54.7,162.9 52.4,160.9Z"/>
<path d="M67.6,148.8 70.8,148.0 72.7,148.5 69.4,149.6Z"/>
<path d="M105.9,244.1 112.9,246.0 118.8,247.6 125.9,246.5 130.6,248.8 135.3,252.4 138.8,251.6 142.4,257.1 144.7,260.6 144.0,265.3 143.1,271.2 144.7,275.9 148.2,279.4 152.9,280.6 156.5,278.2 158.8,274.7 162.4,272.8 166.6,273.5 164.7,277.5 162.4,281.8 161.2,284.1 163.5,286.9 168.2,286.9 172.2,288.4 170.6,290.7 165.9,291.6 163.5,294.7 161.2,293.5 157.6,292.4 154.1,290.7 151.8,290.0 147.1,287.6 141.2,286.5 136.5,284.1 130.6,280.6 124.7,275.9 123.5,272.4 121.2,267.6 117.6,260.6 114.1,253.5 113.7,247.1 111.3,245.9 109.9,246.4 109.6,249.9 111.3,255.5 113.8,262.6 116.7,268.0 114.8,269.2 112.0,263.7 109.2,258.4 106.8,255.2 108.2,252.0 107.1,247.8 106.4,244.2Z"/>
<path d="M167.5,299.4 170.6,300.1 172.9,304.1 172.2,307.6 169.4,305.8 167.1,302.5Z"/>
<path d="M193.9,280.9 196.7,277.4 200.2,277.4 200.5,282.4 197.4,281.6Z"/>
<path d="M185.3,304.7 188.8,301.2 193.5,298.8 198.2,296.9 200.6,298.8 202.9,300.0 210.0,301.6 217.1,302.4 221.8,301.2 224.1,304.7 226.5,308.2 222.9,314.1 224.1,317.6 219.4,317.6 215.9,321.2 213.5,325.9 208.8,325.9 207.6,323.5 202.9,324.7 201.8,329.4 202.9,335.3 200.6,338.8 197.1,341.6 194.0,347.1 195.9,352.9 200.6,356.5 206.5,357.2 211.2,355.8 214.7,358.8 220.6,362.4 225.3,365.9 226.5,370.6 230.0,372.9 232.4,378.8 228.8,380.0 224.1,380.0 221.8,383.5 222.9,387.1 227.6,391.8 232.4,395.3 233.5,400.0 238.2,400.5 240.6,396.5 242.5,398.8 239.4,403.5 237.1,407.1 237.1,407.2 246.5,414.7 244.8,419.9 240.6,419.4 237.1,418.2 238.7,420.6 240.6,424.1 238.7,427.6 233.5,430.0 230.7,431.6 230.0,434.7 227.6,435.9 226.5,438.2 227.6,441.8 225.3,445.3 226.5,448.8 228.8,452.4 226.9,455.9 226.5,460.6 228.4,464.1 231.2,466.9 234.7,469.3 237.8,471.2 235.9,472.4 231.2,472.4 226.5,470.0 221.8,467.6 217.1,464.1 213.5,460.6 211.2,455.9 210.0,451.2 208.8,445.3 208.1,440.6 206.5,433.5 204.8,426.5 205.3,417.1 205.8,405.3 205.3,393.5 204.8,381.8 204.1,381.2 201.8,376.5 195.9,371.8 190.0,365.9 185.3,358.8 180.6,351.8 177.1,345.9 175.2,341.2 176.6,336.5 177.1,330.6 179.4,325.9 182.9,322.4 184.1,317.6 183.6,310.6Z"/>
<path d="M420.0,225.3 423.5,222.9 428.2,221.2 432.9,220.0 437.6,219.4 442.4,220.6 447.1,221.8 451.8,221.4 456.5,221.8 457.9,225.3 458.8,228.8 458.2,231.5 454.1,231.8 449.4,232.4 443.5,232.9 440.6,234.1 436.5,233.5 431.8,232.9 427.1,234.1 423.5,232.4 420.6,231.2 420.0,229.4Z"/>
<path d="M418.6,220.6 421.2,220.0 422.1,221.8 420.0,222.7 418.2,222.0Z"/>
<path d="M528.2,235.9 530.6,237.1 534.1,240.6 535.3,245.3 540.0,250.7 541.9,253.5 545.9,255.4 551.8,257.8 558.8,259.4 561.2,258.2 562.4,254.7 565.9,253.5 572.9,253.1 577.6,252.4 580.0,257.1 576.5,260.6 574.1,267.6 570.6,268.8 569.4,262.9 564.7,261.8 561.2,264.1 563.5,271.2 558.8,275.9 551.8,282.9 547.1,288.8 545.9,295.9 543.5,302.9 541.2,307.6 537.6,302.9 534.1,294.7 530.6,284.1 528.2,275.9 524.7,272.4 518.8,271.2 517.6,266.5 521.2,265.3 518.8,260.6 524.7,252.4 525.9,245.3 530.6,240.6Z"/>
<path d="M344.1,216.5 347.1,215.3 351.8,214.9 357.6,215.3 360.2,216.1 364.1,216.8 367.6,217.6 368.8,219.4 365.9,221.8 363.5,224.1 362.4,227.6 360.0,231.2 357.6,233.5 354.1,234.5 351.2,234.7 349.4,233.5 348.5,230.0 349.2,225.3 349.4,221.2 348.2,219.4 344.7,219.2Z"/>
<path d="M368.2,196.8 370.0,194.1 372.4,191.8 375.3,190.9 376.5,192.4 375.9,195.3 375.3,197.6 376.5,199.4 374.1,200.4 370.8,198.8Z"/>
<path d="M376.5,192.4 377.6,189.4 380.6,188.2 382.9,188.6 386.5,188.8 390.0,189.4 390.8,192.4 391.5,195.3 390.0,197.6 388.0,198.8 389.4,201.8 390.0,204.1 387.1,205.3 384.1,205.9 380.6,205.3 378.2,204.7 378.2,202.0 374.1,200.4 376.5,199.4 375.3,197.6 375.9,195.3Z"/>
<path d="M378.2,182.9 380.6,181.2 382.6,180.4 382.9,182.9 382.4,185.9 380.6,187.4 378.8,187.1 378.6,184.7Z"/>
<path d="M384.1,184.4 386.5,183.9 387.3,185.9 385.3,186.7Z"/>
<path d="M390.8,189.4 394.7,187.6 400.0,187.1 405.9,187.4 409.4,188.8 410.4,192.9 410.6,196.5 408.2,198.8 404.7,200.0 401.2,199.4 397.6,198.8 394.1,198.2 391.5,197.1 391.5,195.3 390.8,192.4Z"/>
<path d="M401.2,187.1 404.5,186.2 406.1,187.4 403.5,187.9Z"/>
<path d="M387.1,205.3 390.0,204.1 392.9,202.4 396.5,202.7 397.6,203.5 397.1,205.9 394.1,207.4 390.6,207.6 387.6,207.1Z"/>
<path d="M375.9,206.5 378.2,204.7 380.6,205.3 384.1,205.9 384.7,207.6 381.8,209.4 378.8,209.4 377.1,209.4Z"/>
<path d="M397.6,203.5 400.0,203.5 403.5,202.9 407.6,202.9 409.4,204.1 407.6,206.5 404.7,208.2 401.2,209.4 398.2,208.2 397.1,205.9Z"/>
<path d="M407.6,206.5 409.4,204.1 412.9,203.5 417.6,204.1 420.6,206.5 422.4,210.0 423.5,211.8 421.2,213.5 416.5,214.5 411.8,214.1 409.4,212.4 407.1,210.0 405.9,208.2Z"/>
<path d="M410.6,214.7 411.8,214.1 416.5,214.5 421.2,213.8 421.8,216.5 420.6,218.8 417.6,220.0 413.5,220.4 411.2,218.8Z"/>
<path d="M378.8,209.4 381.8,209.4 384.7,207.6 387.6,207.1 390.6,207.9 390.0,210.0 388.8,211.8 390.0,214.1 392.4,217.1 395.3,220.0 398.8,222.4 401.8,224.4 400.6,225.5 398.2,224.7 397.6,226.5 399.4,228.8 398.2,230.6 396.5,228.8 396.2,226.5 394.1,223.5 391.2,220.6 388.8,218.2 386.5,215.3 384.1,213.3 381.2,213.8 379.4,215.3 377.6,215.3 378.2,212.9 377.1,209.4Z"/>
<path d="M390.0,230.0 392.9,229.4 396.2,230.0 395.3,232.4 392.4,232.1Z"/>
<path d="M380.6,222.4 382.9,221.8 383.5,225.3 382.1,227.1 380.6,226.2Z"/>
<path d="M372.4,176.8 371.8,172.1 372.9,169.1 377.1,166.8 381.2,163.2 384.7,159.7 388.2,156.2 391.8,153.8 395.3,151.5 399.4,150.3 402.9,149.1 407.6,148.9 411.8,149.1 414.1,150.3 414.5,150.6 412.9,152.6 414.1,156.8 415.9,161.5 417.6,165.6 419.6,168.3 417.6,171.5 415.5,173.5 412.4,174.2 408.2,174.4 404.7,173.2 402.4,170.9 401.2,166.8 402.4,163.8 405.3,162.4 407.3,161.7 406.2,160.5 403.5,160.9 401.8,162.1 399.4,163.8 397.1,166.4 395.3,169.7 395.9,172.1 397.6,173.8 397.1,176.8 395.3,179.7 393.5,182.6 391.2,185.0 388.2,185.2 386.5,183.2 385.3,180.3 384.1,178.5 382.4,178.2 379.4,179.1 375.3,179.1Z"/>
<path d="M378.0,132.4 382.9,130.9 390.0,130.2 397.1,130.2 402.0,130.9 399.7,132.7 394.4,133.2 390.9,135.0 387.3,137.3 382.9,135.9 379.4,134.1Z"/>
<path d="M426.7,130.2 431.5,129.2 435.5,130.2 431.5,130.9Z"/>
<path d="M446.5,147.4 448.2,142.1 453.5,139.1 460.6,137.3 467.3,136.8 465.9,138.5 459.7,140.3 454.4,142.9 452.6,146.5 456.2,149.1 453.5,150.0 449.1,149.1Z"/>
<path d="M414.5,150.6 418.2,151.5 422.9,152.3 428.2,153.8 432.4,155.8 433.8,157.9 431.8,159.4 426.5,159.1 421.8,158.9 420.6,159.7 423.5,161.5 426.5,162.6 427.6,164.4 431.2,163.8 433.5,161.5 435.9,159.7 437.6,156.8 437.1,154.4 440.0,155.8 442.1,157.1 440.0,157.1 447.1,155.2 454.1,153.5 463.5,151.9 470.6,152.4 475.3,154.2 473.4,147.6 476.5,144.8 480.5,147.6 481.9,151.9 483.1,147.2 485.9,150.0 488.2,155.9 489.4,159.4 490.4,157.1 488.2,151.2 487.1,147.2 490.6,146.5 495.3,144.8 498.8,141.8 503.5,139.4 510.6,138.2 517.6,136.4 521.2,135.9 527.1,137.8 534.1,138.2 538.8,140.1 536.5,142.9 543.5,144.1 552.9,144.8 562.4,144.1 569.4,145.3 576.5,147.6 581.2,148.1 585.9,146.5 590.6,145.3 587.1,143.4 591.8,144.1 600.0,146.5 609.4,148.1 618.8,150.0 628.2,151.2 640.0,152.4 645.9,152.4 649.4,153.5 654.1,151.2 661.2,152.4 668.2,155.9 675.3,160.6 680.0,164.6 685.9,167.6 680.0,168.8 676.5,170.0 677.6,173.5 670.6,173.5 664.7,175.9 665.9,180.6 670.6,182.9 674.1,186.5 674.8,191.2 675.3,195.9 671.8,192.4 667.1,188.8 663.5,185.3 660.0,180.6 658.4,177.1 660.7,172.4 657.6,169.3 655.3,172.4 650.6,170.7 647.5,173.5 649.4,177.1 642.4,177.1 635.3,177.1 628.2,178.7 624.7,186.5 630.6,188.1 636.5,189.5 641.2,193.5 644.7,199.4 645.9,205.3 644.7,210.0 642.4,214.7 638.8,217.1 636.5,214.7 637.2,208.8 637.6,204.1 634.1,204.1 628.2,202.9 622.4,200.6 615.3,197.1 610.6,193.5 605.9,191.2 601.2,191.2 600.0,194.7 598.8,200.6 590.6,199.9 582.4,200.6 574.1,198.9 567.1,196.6 560.0,195.2 557.6,198.2 550.6,199.4 543.5,198.2 537.6,200.6 531.8,198.2 524.7,195.9 520.0,192.9 516.5,190.6 511.8,188.2 507.1,189.4 503.5,188.8 500.0,187.6 496.5,185.9 491.8,187.6 487.1,188.2 482.4,190.0 482.4,192.9 484.7,195.3 480.0,196.8 474.1,196.5 469.4,195.3 464.7,194.7 461.2,196.5 457.6,199.4 457.6,202.4 458.8,204.7 461.2,205.9 463.5,208.2 462.4,210.6 460.0,212.4 460.6,213.5 462.9,217.1 464.7,220.0 462.9,221.8 460.0,220.6 456.5,218.8 452.9,217.6 448.2,216.5 443.5,214.1 440.0,211.8 440.6,210.0 442.4,207.6 441.8,206.5 443.5,203.5 442.9,200.0 438.8,198.2 434.1,196.5 429.4,194.7 425.3,192.4 425.9,189.4 423.5,185.3 420.0,184.7 420.6,186.8 417.6,183.8 416.5,180.9 414.7,177.9 415.9,175.6 415.5,173.5 417.6,171.5 419.6,168.3 417.6,165.6 415.9,161.5 414.1,156.8 412.9,152.6Z"/>
<path d="M493.6,130.0 498.8,129.3 504.7,131.2 509.4,133.1 504.7,133.5 498.8,132.4Z"/>
<path d="M510.6,132.4 516.5,133.5 520.0,135.4 515.3,134.7Z"/>
<path d="M574.1,139.4 578.8,138.2 585.9,139.4 583.5,141.8 577.6,141.1Z"/>
<path d="M589.4,139.4 596.5,140.6 592.9,141.3Z"/>
<path d="M655.3,147.6 657.6,148.8 656.5,150.0Z"/>
<path d="M639.1,187.9 641.8,190.1 646.0,193.8 650.2,197.5 654.5,201.2 652.4,201.7 650.2,200.6 652.4,203.8 655.5,207.0 657.6,208.6 655.0,208.1 652.4,205.4 649.7,201.7 646.5,197.5 642.8,193.8 640.2,190.6Z"/>
<path d="M656.1,211.2 658.7,212.3 661.9,213.9 665.1,213.4 667.2,215.5 665.1,217.6 662.4,218.1 660.3,219.7 658.2,219.2 656.6,217.1Z"/>
<path d="M659.6,221.7 661.8,221.4 664.6,224.2 666.0,227.7 666.3,231.2 667.4,234.1 668.5,236.2 667.4,237.9 664.6,238.6 662.5,239.3 661.1,241.1 659.3,241.5 658.6,239.7 656.8,239.0 654.7,238.6 652.6,239.0 650.8,239.7 649.1,241.1 648.0,240.4 649.4,238.3 651.2,236.5 654.0,235.8 656.8,235.8 657.5,234.1 657.2,231.9 658.9,232.3 661.1,230.2 661.4,227.0 660.0,224.2Z"/>
<path d="M646.6,242.2 648.3,240.8 650.5,241.8 652.2,243.9 652.6,246.8 651.2,247.8 649.8,246.1 648.3,244.3Z"/>
<path d="M652.9,242.2 654.7,240.8 657.2,240.1 657.2,241.1 655.4,242.2 654.0,243.2Z"/>
<path d="M634.6,230.2 636.7,228.8 639.2,230.2 641.6,232.6 643.4,235.5 643.8,237.6 641.6,239.0 639.5,239.3 638.1,237.2 636.7,234.8 635.3,232.3Z"/>
</g>
<g fill="#fff" stroke="#4a3f3a" stroke-opacity="0.8" stroke-width="0.5" stroke-linejoin="round">
<path d="M197.8,300.7 199.6,299.8 200.1,303.5 198.2,304.0Z"/>
</g>
<g fill="none" stroke="#4a3f3a" stroke-opacity="0.8" stroke-width="0.5" stroke-linejoin="round">
<path d="M127.6,151.8 104.5,173.5"/>
<path d="M115.3,201.3 171.8,201.3 176.5,202.2 183.5,204.1 187.1,206.5 190.6,210.0 192.9,212.4 190.6,215.9 188.2,219.4 190.0,218.9 193.8,218.0 198.5,216.1 202.2,214.7 205.5,212.8 208.8,211.4 212.6,210.9 216.4,210.0 219.2,208.1 222.0,205.8 223.4,206.7 223.4,210.5 224.4,211.4"/>
<path d="M161.2,284.1 158.8,284.1 155.3,284.1 154.1,287.6 151.8,290.0"/>
<path d="M155.3,284.1 157.6,288.8 161.2,293.5"/>
<path d="M158.8,288.4 162.4,290.0 165.9,291.6"/>
<path d="M195.9,300.0 197.1,305.9 200.6,309.4 205.3,311.8 206.5,317.6 208.8,325.9"/>
<path d="M177.1,330.6 182.9,328.2 187.6,330.6 191.2,334.1 200.6,338.8"/>
<path d="M176.6,336.5 180.6,338.8 185.3,336.5 188.8,332.9"/>
<path d="M206.5,357.2 205.3,361.2 204.8,368.2 205.3,376.5 201.8,376.5"/>
<path d="M205.3,376.5 208.8,383.5 211.2,387.5 215.9,386.4 220.6,387.1 221.8,383.5"/>
<path d="M211.2,387.6 210.0,393.5 208.8,400.6 210.0,407.6 210.5,417.1 210.0,426.5 211.9,433.5 213.5,440.6 214.2,447.6 215.2,454.7 217.5,460.6 222.9,464.1 226.5,464.1"/>
<path d="M237.1,407.2 235.4,410.0 235.9,415.9 237.1,418.2"/>
<path d="M225.3,464.1 226.5,470.0"/>
<path d="M384.1,178.5 384.7,172.1 384.1,166.2 386.5,161.5 390.0,157.4 394.7,153.8 398.2,153.0 401.8,155.0 403.5,159.1 403.5,160.9"/>
<path d="M398.2,153.0 401.8,152.3 405.3,151.5 410.0,151.5 412.9,152.6"/>
</g>
<g id="legend" font-family="Liberation Sans, sans-serif" font-size="13.3" fill="#5b5b5b" text-anchor="middle">
<rect x="332.5" y="537.5" width="48" height="11" fill="url(#h2)" stroke="#d0d0d0" stroke-width="0.9"/>
<rect x="400" y="537.5" width="58.5" height="11" fill="#f4a582" stroke="#bbb" stroke-width="0.6"/>
<rect x="458.5" y="537.5" width="58.5" height="11" fill="#92c5de" stroke="#bbb" stroke-width="0.6"/>
<line x1="356.5" y1="534" x2="356.5" y2="537.5" stroke="#999" stroke-width="0.7"/>
<line x1="429.5" y1="534" x2="429.5" y2="537.5" stroke="#999" stroke-width="0.7"/>
<line x1="487.5" y1="534" x2="487.5" y2="537.5" stroke="#999" stroke-width="0.7"/>
<text x="356.5" y="530">No data</text>
<text x="429.5" y="530">No</text>
<text x="487.5" y="530">Yes</text>
</g>
</svg>
<div id="src"><b style="letter-spacing:-0.5px">Data source:</b><span style="letter-spacing:-0.17px"> Thomas Brambor et al. (2019)</span></div>
<div id="url">OurWorldinData.org/state-capacity | CC BY</div>
</body></html>
